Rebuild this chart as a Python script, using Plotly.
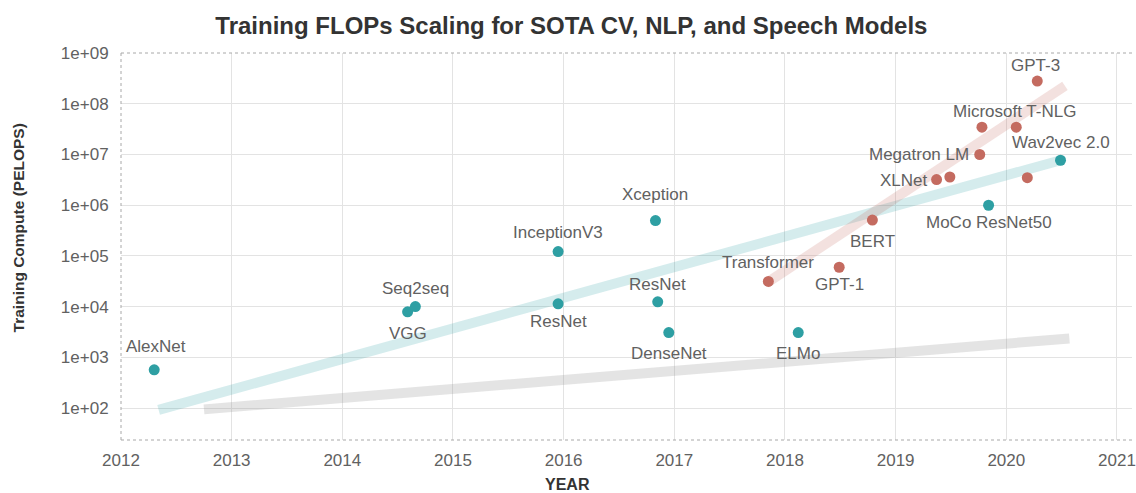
import numpy as np
import plotly.graph_objects as go

# ---------------- data ----------------
teal_names = ["AlexNet", "VGG", "Seq2seq", "InceptionV3", "ResNet", "Xception",
              "ResNet", "DenseNet", "ELMo", "MoCo ResNet50", "Wav2vec 2.0"]
teal_years = [2012.30, 2014.59, 2014.66, 2015.95, 2015.95, 2016.83,
              2016.85, 2016.95, 2018.12, 2019.84, 2020.49]
teal_flops = [570, 7950, 10100, 1.22e5, 1.14e4, 5.0e5,
              1.25e4, 3100, 3100, 1.0e6, 7.7e6]

red_names = ["Transformer", "GPT-1", "BERT", "XLNet", "", "Megatron LM",
             "", "Microsoft T-NLG", "GPT-3", ""]
red_years = [2017.85, 2018.49, 2018.79, 2019.37, 2019.49, 2019.76,
             2019.78, 2020.09, 2020.28, 2020.19]
red_flops = [3.15e4, 6.0e4, 5.1e5, 3.2e6, 3.6e6, 1.0e7,
             3.45e7, 3.45e7, 2.8e8, 3.5e6]

# trend lines (endpoints)
trend_teal_x = [2012.34, 2020.50]
trend_teal_y = [93, 7.8e6]
trend_red_x = [2017.83, 2020.53]
trend_red_y = [2.9e4, 2.25e8]
trend_gray_x = [2012.75, 2020.57]
trend_gray_y = [95, 2370]

year_ticks = list(range(2012, 2022))
y_tick_vals = [1e2, 1e3, 1e4, 1e5, 1e6, 1e7, 1e8, 1e9]
y_tick_text = ["1e+02", "1e+03", "1e+04", "1e+05", "1e+06", "1e+07", "1e+08", "1e+09"]

# label placement (pixel offsets: xshift, yshift, xanchor)
teal_label_pos = [(2, 23, "center"), (0, -22, "center"), (0, 18, "center"),
                  (0, 19, "center"), (0, -18, "center"), (0, 26, "center"),
                  (0, 17, "center"), (0, -21, "center"), (0, -21, "center"),
                  (0, -17, "center"), (0, 18, "center")]
red_label_pos = [(0, 19, "center"), (0, -17, "center"), (0, -21, "center"),
                 (-7, -1, "right"), None, (-9, 0, "right"),
                 None, (-2, 16, "center"), (-2, 16, "center"), None]

TEAL = "#2e9fa3"
RED = "#c46b60"
FONT = "Liberation Sans"
LABEL_COLOR = "#616161"

fig = go.Figure()

fig.add_trace(go.Scatter(x=trend_gray_x, y=trend_gray_y, mode="lines",
                         line=dict(color="rgba(150,150,150,0.26)", width=10),
                         hoverinfo="skip", showlegend=False))
fig.add_trace(go.Scatter(x=trend_teal_x, y=trend_teal_y, mode="lines",
                         line=dict(color="rgba(46,159,163,0.2)", width=10),
                         hoverinfo="skip", showlegend=False))
fig.add_trace(go.Scatter(x=trend_red_x, y=trend_red_y, mode="lines",
                         line=dict(color="rgba(196,107,96,0.2)", width=10),
                         hoverinfo="skip", showlegend=False))

fig.add_trace(go.Scatter(x=teal_years, y=teal_flops, mode="markers",
                         marker=dict(color=TEAL, size=11),
                         text=teal_names, showlegend=False))
fig.add_trace(go.Scatter(x=red_years, y=red_flops, mode="markers",
                         marker=dict(color=RED, size=11),
                         text=red_names, showlegend=False))

annotations = []
for names, xs, ys, pos in [(teal_names, teal_years, teal_flops, teal_label_pos),
                           (red_names, red_years, red_flops, red_label_pos)]:
    for n, x, y, p in zip(names, xs, ys, pos):
        if not n or p is None:
            continue
        dx, dy, anchor = p
        annotations.append(dict(x=x, y=np.log10(y), xref="x", yref="y", text=n,
                                showarrow=False, xanchor=anchor, yanchor="middle",
                                xshift=dx, yshift=dy,
                                font=dict(family=FONT, size=17, color=LABEL_COLOR)))

annotations.append(dict(text="<b>Training Compute (PELOPS)</b>", xref="paper", yref="paper",
                        x=-0.1014, y=0.548, showarrow=False, textangle=-90,
                        xanchor="center", yanchor="middle",
                        font=dict(family=FONT, size=15.5, color="#333333")))
annotations.append(dict(text="<b>YEAR</b>", xref="paper", yref="paper",
                        x=0.442, y=-0.1137, showarrow=False,
                        xanchor="center", yanchor="middle",
                        font=dict(family=FONT, size=16, color="#333333")))

border = dict(color="#a8a8a8", width=1, dash="dot")
shapes = [
    dict(type="line", xref="paper", yref="paper", x0=0, x1=1, y0=1, y1=1, line=border),
    dict(type="line", xref="paper", yref="paper", x0=0, x1=1, y0=0, y1=0, line=border),
    dict(type="line", xref="paper", yref="paper", x0=0, x1=0, y0=0, y1=1, line=border),
]

fig.update_layout(
    width=1136, height=493,
    margin=dict(l=121, r=0, t=53, b=53),
    paper_bgcolor="white", plot_bgcolor="white",
    title=dict(text="<b>Training FLOPs Scaling for SOTA CV, NLP, and Speech Models</b>",
               x=0.503, xref="container", xanchor="center",
               y=1 - 26 / 493, yref="container", yanchor="middle",
               font=dict(family=FONT, size=24, color="#333333")),
    xaxis=dict(range=[2012, 2021.136], tickvals=year_ticks,
               ticktext=[str(v) for v in year_ticks],
               showgrid=True, gridcolor="#e3e3e3", gridwidth=1.2, zeroline=False,
               showline=False, ticks="outside", ticklen=5, tickcolor="rgba(0,0,0,0)",
               ticklabeloverflow="allow",
               tickfont=dict(family=FONT, size=17, color=LABEL_COLOR)),
    yaxis=dict(type="log", range=[1.374, 9.0], tickvals=y_tick_vals, ticktext=y_tick_text,
               showgrid=True, gridcolor="#e3e3e3", gridwidth=1.2, zeroline=False,
               showline=False, ticks="outside", ticklen=8, tickcolor="rgba(0,0,0,0)",
               tickfont=dict(family=FONT, size=17, color=LABEL_COLOR)),
    annotations=annotations,
    shapes=shapes,
    showlegend=False,
)

fig.write_html("out.html", config={"displayModeBar": False},
               post_script="document.body.style.margin='0';document.body.style.overflow='hidden';")
